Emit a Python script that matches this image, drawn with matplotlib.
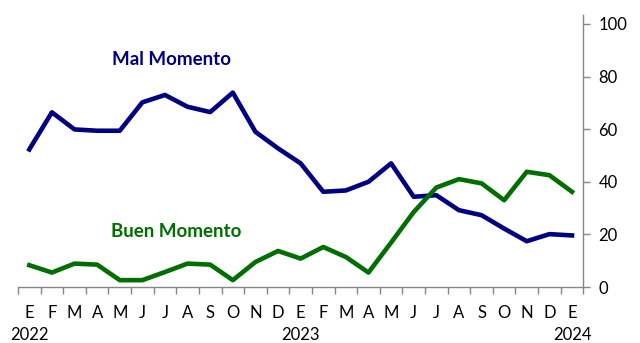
import matplotlib.pyplot as plt
from matplotlib.ticker import FixedLocator
from matplotlib.transforms import blended_transform_factory

months = ["E", "F", "M", "A", "M", "J", "J", "A", "S", "O", "N", "D",
          "E", "F", "M", "A", "M", "J", "J", "A", "S", "O", "N", "D", "E"]
year_pos = [0, 12, 24]
year_labels = ["2022", "2023", "2024"]

mal_momento = [52.3, 66.4, 59.9, 59.4, 59.4, 70.2, 73.0, 68.5, 66.5, 73.9, 59.0, 52.7,
               47.0, 36.2, 36.7, 40.0, 47.0, 34.3, 34.9, 29.2, 27.3, 22.2, 17.4, 20.1, 19.6]
buen_momento = [8.3, 5.5, 8.9, 8.5, 2.6, 2.6, 5.7, 8.9, 8.5, 2.6, 9.5, 13.7,
                10.8, 15.2, 11.4, 5.5, 16.9, 28.5, 37.8, 41.0, 39.4, 33.0, 43.8, 42.5, 36.2]

NAVY = "#000080"
GREEN = "#006E00"
GRAY = "#868686"

plt.rcParams["font.family"] = ["Lato", "DejaVu Sans"]

fig = plt.figure(figsize=(6.4, 3.43), dpi=100)
ax = fig.add_axes([18 / 640, 1 - 287 / 343, (583.3 - 18) / 640, (287 - 15) / 343])

x = list(range(len(months)))
ax.plot(x, mal_momento, color=NAVY, lw=3.3, solid_joinstyle="round")
ax.plot(x, buen_momento, color=GREEN, lw=3.3, solid_joinstyle="round")

ax.set_xlim(-0.5, len(months) - 0.5)
ax.set_ylim(0, 103.4)

# y axis on the right
ax.yaxis.tick_right()
ax.set_yticks(range(0, 101, 20))
ax.tick_params(axis="y", direction="out", length=5, color=GRAY, width=1,
               labelsize=12, pad=6)

# x axis: boundary ticks, month labels between them
ax.xaxis.set_major_locator(FixedLocator([i - 0.5 for i in range(len(months) + 1)]))
ax.xaxis.set_minor_locator(FixedLocator(x))
ax.tick_params(axis="x", which="major", direction="out", length=5, color=GRAY,
               width=1, labelbottom=False)
ax.set_xticklabels(months, minor=True)
ax.tick_params(axis="x", which="minor", length=0, labelsize=12, pad=13)

# year under the January labels
trans = blended_transform_factory(ax.transData, ax.transAxes)
for pos, year in zip(year_pos, year_labels):
    ax.text(pos, -0.175, year, transform=trans, fontsize=12,
            ha="center", va="center")

for side in ("left", "top"):
    ax.spines[side].set_visible(False)
for side in ("right", "bottom"):
    ax.spines[side].set_color(GRAY)
    ax.spines[side].set_linewidth(1)

ax.text(6.27, 86.3, "Mal Momento", color=NAVY, fontsize=13.5, fontweight="bold",
        ha="center", va="center")
ax.text(6.51, 21.2, "Buen Momento", color=GREEN, fontsize=13.5, fontweight="bold",
        ha="center", va="center")

fig.savefig("out.png", dpi=100)
